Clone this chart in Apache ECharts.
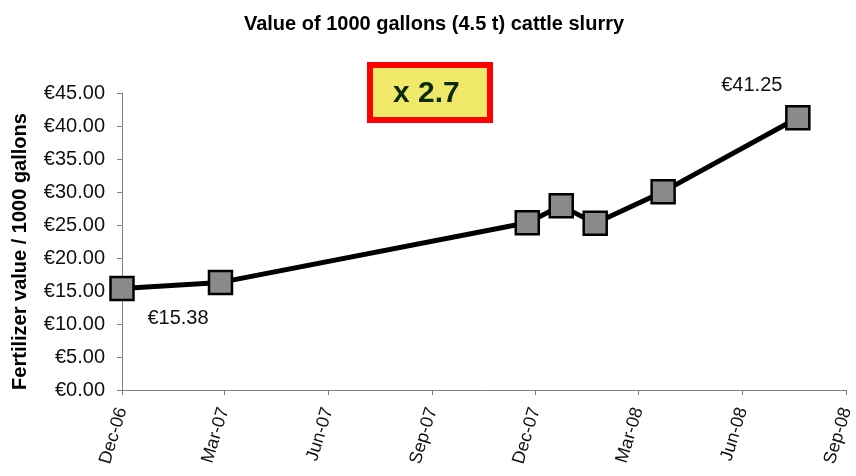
<!DOCTYPE html>
<html>
<head>
<meta charset="utf-8">
<script src="https://cdn.jsdelivr.net/npm/echarts@6/dist/echarts.min.js"></script>
<style>
  html, body { margin: 0; padding: 0; background: #fff; }
  #chart { width: 856px; height: 476px; }
</style>
</head>
<body>
<div id="chart"></div>
<script>
// data
const dates = ['2006-12-01', '2007-02-26', '2007-11-24', '2007-12-24', '2008-01-23', '2008-03-23', '2008-07-20']
const values = [15.38, 16.3, 25.35, 27.9, 25.25, 30.05, 41.25]
const tickDates = ['2006-12-01', '2007-03-01', '2007-06-01', '2007-09-01', '2007-12-01', '2008-03-01', '2008-06-01', '2008-09-01']
const monthNames = ['Jan', 'Feb', 'Mar', 'Apr', 'May', 'Jun', 'Jul', 'Aug', 'Sep', 'Oct', 'Nov', 'Dec']
const labelled = { 0: { offset: [56, 30] }, 6: { offset: [-46, -32] } }

function toTime (s) {
  const p = s.split('-').map(Number)
  return new Date(p[0], p[1] - 1, p[2]).getTime()
}

const ticks = tickDates.map(toTime)
const seriesData = dates.map((d, i) => {
  const item = { value: [toTime(d), values[i]] }
  if (labelled[i]) {
    item.label = {
      show: true,
      position: 'inside',
      offset: labelled[i].offset,
      formatter: '€' + values[i].toFixed(2),
      color: '#111',
      fontSize: 20,
      fontFamily: 'Liberation Sans'
    }
  }
  return item
})

const chart = echarts.init(document.getElementById('chart'))
const option = {
  animation: false,
  backgroundColor: '#fff',
  textStyle: { fontFamily: 'Liberation Sans' },
  title: {
    text: 'Value of 1000 gallons (4.5 t) cattle slurry',
    left: 429,
    top: 9,
    textAlign: 'center',
    textStyle: { fontSize: 20, fontWeight: 'bold', color: '#000', fontFamily: 'Liberation Sans' }
  },
  grid: { left: 122, right: 6, top: 93, bottom: 86 },
  xAxis: {
    type: 'value',
    min: ticks[0],
    max: ticks[ticks.length - 1],
    axisLine: { lineStyle: { color: '#808080', width: 1 } },
    axisTick: { show: true, length: 5, customValues: ticks, lineStyle: { color: '#808080' } },
    splitLine: { show: false },
    axisLabel: {
      customValues: ticks,
      rotate: 73,
      margin: 18,
      fontSize: 18,
      color: '#111',
      formatter: function (v) {
        const d = new Date(v)
        return monthNames[d.getMonth()] + '-' + String(d.getFullYear() % 100).padStart(2, '0')
      }
    }
  },
  yAxis: {
    type: 'value',
    min: 0,
    max: 45,
    interval: 5,
    name: 'Fertilizer value / 1000 gallons',
    nameLocation: 'middle',
    nameGap: 92,
    nameTextStyle: { fontSize: 20, fontWeight: 'bold', color: '#000', padding: [0, 20, 0, 0] },
    axisLine: { show: true, lineStyle: { color: '#808080', width: 1 } },
    axisTick: { show: true, length: 5, lineStyle: { color: '#808080' } },
    splitLine: { show: false },
    axisLabel: {
      fontSize: 20,
      color: '#111',
      margin: 17,
      formatter: v => '€' + v.toFixed(2)
    }
  },
  series: [
    {
      type: 'line',
      data: seriesData,
      symbol: 'rect',
      symbolSize: 23,
      lineStyle: { color: '#000', width: 5 },
      itemStyle: { color: '#8a8a8a', borderColor: '#000', borderWidth: 2.5 },
      z: 3
    }
  ],
  graphic: [
    {
      type: 'rect',
      left: 367,
      top: 62,
      shape: { x: 0, y: 0, width: 120, height: 55 },
      style: { fill: '#f0e868', stroke: '#ff0000', lineWidth: 6 }
    },
    {
      type: 'text',
      left: 393,
      top: 79,
      style: { text: 'x 2.7', font: 'bold 30px "Liberation Sans"', fill: '#0c2a0c' }
    }
  ]
}

option && chart.setOption(option)
</script>
</body>
</html>
